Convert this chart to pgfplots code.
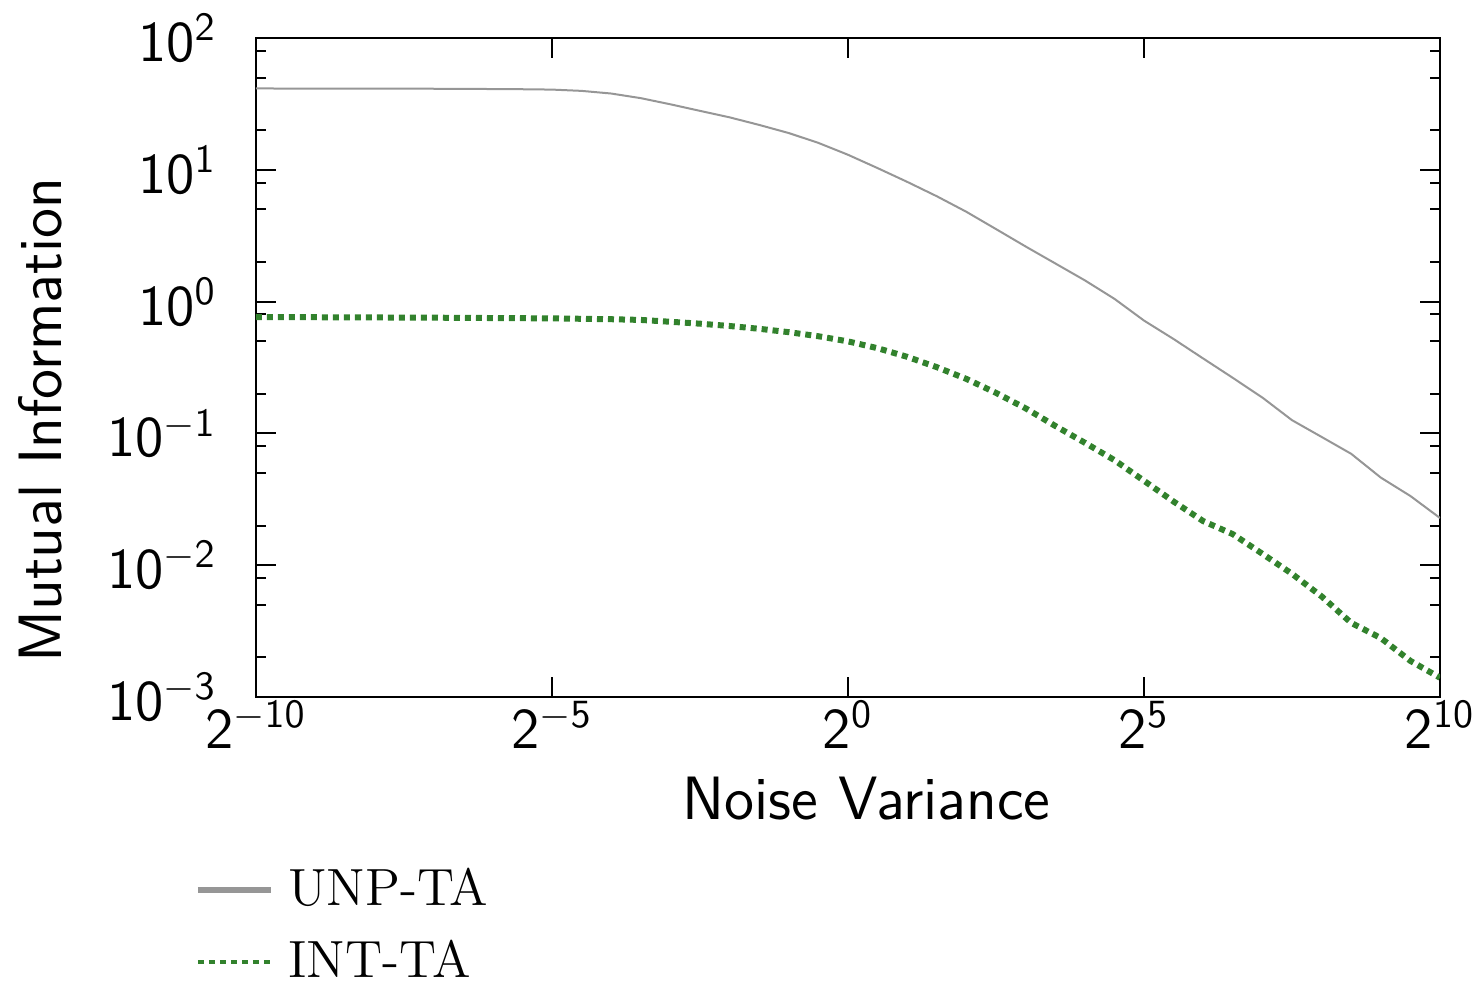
\documentclass[border=0pt]{standalone}
\usepackage{pgfplots}
\pgfplotsset{compat=1.18}
\definecolor{unpgray}{RGB}{150,150,150}
\definecolor{intgreen}{RGB}{50,130,45}
\pgfplotstableread{
x y
0.0009765625 41.4
0.0078125 41.2
0.015625 41.0
0.0220971 40.85
0.03125 40.6
0.04419 39.7
0.0625 37.9
0.08839 34.96
0.125 31.4
0.17678 28.0
0.25 25.0
0.35355 21.9
0.5 19.0
0.70711 16.0
1 13.0
1.41421 10.3
2 8.1
2.82843 6.3
4 4.8
5.65685 3.55
8 2.62
11.3137 1.95
16 1.45
22.6274 1.05
32 0.718
45.2548 0.52
64 0.37
90.5097 0.264
128 0.187
181.019 0.126
256 0.094
362.039 0.070
512 0.0462
724.077 0.0335
1024 0.0228
}\unpdata
\pgfplotstableread{
x y
0.0009765625 0.764
0.0078125 0.755
0.03125 0.746
0.0625 0.735
0.08839 0.726
0.125 0.703
0.17678 0.680
0.25 0.653
0.35355 0.622
0.5 0.586
0.70711 0.546
1 0.499
1.41421 0.443
2 0.381
2.82843 0.318
4 0.259
5.65685 0.203
8 0.155
11.3137 0.114
16 0.085
22.6274 0.0627
32 0.0437
45.2548 0.0304
64 0.0216
90.5097 0.0172
128 0.0122
181.019 0.0086
256 0.0058
362.039 0.00365
512 0.0028
724.077 0.00188
1024 0.0014
}\intdata
\begin{document}
\begin{tikzpicture}
\begin{axis}[
  name=ax, at={(0,0)}, anchor=south west,
  scale only axis, width=296pt, height=164.75pt,
  xmode=log, ymode=log, log basis x=2, log basis y=10,
  xmin=0.0009765625, xmax=1024, ymin=1e-3, ymax=1e2,
  xtick={0.0009765625,0.03125,1,32,1024},
  xticklabels={$\mathsf{2^{-10}}$,$\mathsf{2^{-5}}$,$\mathsf{2^{0}}$,$\mathsf{2^{5}}$,$\mathsf{2^{10}}$},
  ytick={1e-3,1e-2,1e-1,1,10,100},
  yticklabels={$\mathsf{10^{-3}}$,$\mathsf{10^{-2}}$,$\mathsf{10^{-1}}$,$\mathsf{10^{0}}$,$\mathsf{10^{1}}$,$\mathsf{10^{2}}$},
  xminorticks=false,
  minor ytick={2e-3,5e-3,8e-3,2e-2,5e-2,8e-2,0.2,0.5,0.8,2,5,8,20,50,80},
  major tick length=5pt, minor tick length=2.5pt,
  tick style={black, line width=0.5pt},
  axis line style={black, line width=0.5pt},
  tick label style={font=\fontsize{14.7}{17}\selectfont},
  yticklabel style={xshift=-6.3pt},
  xticklabel style={yshift=2.5pt},
  xlabel={Noise Variance},
  ylabel={Mutual Information},
  every axis x label/.style={at={(axis description cs:0.5156,-0.1866)}, anchor=base,
    font=\fontsize{15.3}{18}\sffamily},
  every axis y label/.style={at={(axis description cs:-0.1824,0.42)}, rotate=90, anchor=center,
    font=\fontsize{15.3}{18}\sffamily},
  legend style={at={(rel axis cs:0,0)}, anchor=north west, xshift=-15.5pt, yshift=-40.6pt,
    draw=none, fill=none, inner sep=0pt, row sep=3.2pt, column sep=1.5pt,
    font=\fontsize{13.1}{15}\selectfont},
  legend cell align=left,
  legend image code/.code={\draw[#1] (0pt,0pt) -- (18.25pt,0pt);},
]
\addplot[unpgray, line width=0.5pt, legend image post style={line width=1.6pt}] table[x=x,y=y] {\unpdata};
\addlegendentry{UNP-TA}
\addplot[intgreen, line width=1.5pt, dash pattern=on 1.5pt off 1.25pt, legend image post style={line width=1pt}] table[x=x,y=y] {\intdata};
\addlegendentry{INT-TA}
\end{axis}
\pgfresetboundingbox
\path (-64pt,-71.5pt) rectangle (306pt,174.25pt);
\end{tikzpicture}
\end{document}
